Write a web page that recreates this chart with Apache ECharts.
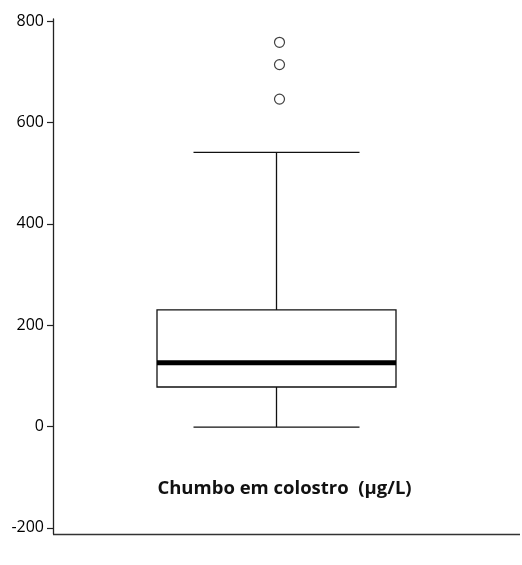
<!DOCTYPE html>
<html>
<head>
<meta charset="utf-8">
<script src="https://cdn.jsdelivr.net/npm/echarts@6/dist/echarts.min.js"></script>
<style>html,body{margin:0;padding:0;background:#fff;}#c{width:522px;height:565px;}</style>
</head>
<body>
<div id="c"></div>
<script>
const categories = ['Chumbo em colostro  (µg/L)'];
// [lower whisker, Q1, median, Q3, upper whisker]
const boxValues = [[-1, 78, 126, 230, 541]];
const outliers = [758, 714, 646];
const yTicks = [-200, 0, 200, 400, 600, 800];

const chart = echarts.init(document.getElementById('c'));
chart.setOption({
  animation: false,
  backgroundColor: '#fff',
  grid: { left: 53, right: 22, top: 19, bottom: 31 },
  title: {
    text: categories[0],
    left: 279.5, top: 474, textAlign: 'center',
    textStyle: { fontFamily: 'Open Sans', fontWeight: 'bold', fontSize: 18.5, color: '#111' }
  },
  xAxis: {
    type: 'category', data: categories,
    axisLine: { show: false }, axisTick: { show: false }, axisLabel: { show: false },
    splitLine: { show: false }
  },
  yAxis: {
    type: 'value', min: -212, max: 804,
    axisLine: { show: true, lineStyle: { color: '#222', width: 1.3 } },
    axisTick: { show: true, length: 6, customValues: yTicks, lineStyle: { color: '#222', width: 1.2 } },
    axisLabel: { customValues: yTicks, fontSize: 16, color: '#000', fontFamily: 'Open Sans', fontWeight: 500, margin: 9 },
    splitLine: { show: false }
  },
  graphic: [{
    type: 'line', shape: { x1: 53, y1: 534.5, x2: 520, y2: 534.5 },
    style: { stroke: '#333', lineWidth: 1.6 }
  }],
  series: [{
    type: 'custom',
    data: boxValues.map((v, i) => [i].concat(v)),
    renderItem: function (params, api) {
      const x = api.value(0);
      const lo = api.coord([x, api.value(1)]);
      const q1 = api.coord([x, api.value(2)]);
      const med = api.coord([x, api.value(3)]);
      const q3 = api.coord([x, api.value(4)]);
      const hi = api.coord([x, api.value(5)]);
      const cx = lo[0];
      const bw = 239, cw = 166;
      const ls = { stroke: '#111', lineWidth: 1.3, fill: null };
      return {
        type: 'group',
        children: [
          { type: 'line', shape: { x1: cx, y1: hi[1], x2: cx, y2: q3[1] }, style: ls },
          { type: 'line', shape: { x1: cx, y1: q1[1], x2: cx, y2: lo[1] }, style: ls },
          { type: 'line', shape: { x1: cx - cw / 2, y1: hi[1], x2: cx + cw / 2, y2: hi[1] }, style: ls },
          { type: 'line', shape: { x1: cx - cw / 2, y1: lo[1], x2: cx + cw / 2, y2: lo[1] }, style: ls },
          { type: 'rect', shape: { x: cx - bw / 2, y: q3[1], width: bw, height: q1[1] - q3[1] }, style: { stroke: '#111', lineWidth: 1.3, fill: '#fff' } },
          { type: 'line', shape: { x1: cx - bw / 2, y1: med[1], x2: cx + bw / 2, y2: med[1] }, style: { stroke: '#000', lineWidth: 5 } }
        ]
      };
    }
  }, {
    type: 'scatter',
    data: outliers.map(v => [0, v]),
    symbol: 'circle', symbolSize: 10, symbolOffset: [3, 0],
    itemStyle: { color: '#fff', borderColor: '#111', borderWidth: 1.2 }
  }]
});
</script>
</body>
</html>
